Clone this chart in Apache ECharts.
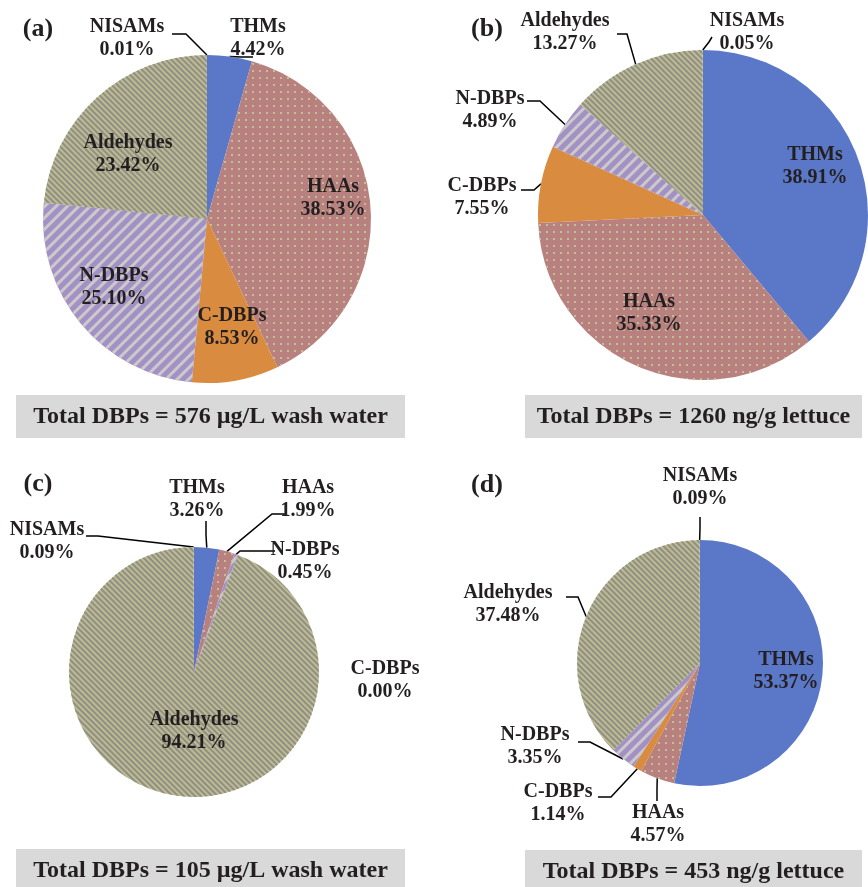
<!DOCTYPE html>
<html><head><meta charset="utf-8">
<script src="https://cdn.jsdelivr.net/npm/echarts@6/dist/echarts.min.js"></script>
<style>html,body{margin:0;padding:0;background:#fff}#c{width:868px;height:887px}</style>
</head><body><div id="c"></div>
<script>
// ---- data ----
const categories = ['THMs', 'HAAs', 'C-DBPs', 'N-DBPs', 'Aldehydes', 'NISAMs'];
const valuesA = [4.42, 38.53, 8.53, 25.10, 23.42, 0.01];
const valuesB = [38.91, 35.33, 7.55, 4.89, 13.27, 0.05];
const valuesC = [3.26, 1.99, 0.00, 0.45, 94.21, 0.09];
const valuesD = [53.37, 4.57, 1.14, 3.35, 37.48, 0.09];
const panelTags = ['(a)', '(b)', '(c)', '(d)'];
const totals = ['Total DBPs = 576 µg/L wash water', 'Total DBPs = 1260 ng/g lettuce',
                'Total DBPs = 105 µg/L wash water', 'Total DBPs = 453 ng/g lettuce'];
const allValues = [valuesA, valuesB, valuesC, valuesD];

// ---- layout / style ----
const FONT = "'Liberation Serif', 'Times New Roman', serif";
const TXT = '#231F20';
const PIES = [
  {center: [207, 219], r: 164},
  {center: [703, 215], r: 165},
  {center: [194, 672], r: 125},
  {center: [700, 663], r: 123}
];
const TAGPOS = [[38, 29], [487, 29], [38, 484], [487, 485]];
const BOXES = [
  {x: 16, y: 395, w: 389, h: 43},
  {x: 525, y: 395, w: 337, h: 43},
  {x: 16, y: 849, w: 389, h: 43},
  {x: 525, y: 850, w: 337, h: 43}
];
// label anchor (center) and leader-line elbow/end per slice
const LAYOUT = [
  [ {x: 258, y: 38, line: [[241, 57], [253, 57]]},
    {x: 333, y: 198}, {x: 232, y: 327}, {x: 114, y: 287}, {x: 128, y: 154},
    {x: 127, y: 38, line: [[186, 34], [172, 34]]} ],
  [ {x: 815, y: 166}, {x: 649, y: 313},
    {x: 482, y: 197, line: [[534, 190], [521, 190]]},
    {x: 490, y: 110, line: [[540, 101], [527, 101]]},
    {x: 565, y: 32, line: [[627, 34], [617, 34]]},
    {x: 747, y: 32, line: [[709, 42], [712, 37]]} ],
  [ {x: 197, y: 499, line: [[206, 535], [206, 521]]},
    {x: 308, y: 499, line: [[272, 514], [287, 514]]},
    {x: 385, y: 680},
    {x: 305, y: 561, line: [[240, 551], [275, 551]]},
    {x: 194, y: 731},
    {x: 47, y: 541, line: [[98, 536], [86, 536]]} ],
  [ {x: 786, y: 671},
    {x: 658, y: 824, line: [[657, 790], [657, 801]]},
    {x: 558, y: 803, line: [[611, 797], [598, 797]]},
    {x: 535, y: 746, line: [[590, 742], [578, 742]]},
    {x: 508, y: 604, line: [[578, 597], [566, 597]]},
    {x: 700, y: 487, line: [[700, 528], [700, 517]]} ]
];
const COLORS = ['#5B78C8', '#B98080', '#D98B3F', '#A390C4', '#BEBB8F', '#BEBB8F'];
const DECALS = [
  null,
  {symbol: 'rect', symbolSize: 1, color: '#C2C08E', dashArrayX: [2, 5], dashArrayY: [2, 5], rotation: 0},
  null,
  {symbol: 'rect', symbolSize: 1, color: '#CACACA', dashArrayX: [1, 0], dashArrayY: [3, 5], rotation: -Math.PI / 4},
  {symbol: 'rect', symbolSize: 1, color: '#8F8F88', dashArrayX: [1, 0], dashArrayY: [1.5, 2], rotation: Math.PI / 4},
  {symbol: 'rect', symbolSize: 1, color: '#8F8F88', dashArrayX: [1, 0], dashArrayY: [1.5, 2], rotation: Math.PI / 4}
];

function edgePoint(si, di) {
  const vals = allValues[si];
  const tot = vals.reduce((a, b) => a + b, 0);
  let cum = 0;
  for (let k = 0; k < di; k++) cum += vals[k];
  const frac = (cum + vals[di] / 2) / tot;
  const ang = frac * 2 * Math.PI;
  const p = PIES[si];
  return [p.center[0] + p.r * Math.sin(ang), p.center[1] - p.r * Math.cos(ang)];
}

const series = allValues.map((vals, si) => ({
  type: 'pie',
  center: PIES[si].center,
  radius: PIES[si].r,
  startAngle: 90,
  clockwise: true,
  avoidLabelOverlap: false,
  stillShowZeroSum: true,
  animation: false,
  silent: true,
  itemStyle: {borderWidth: 0},
  label: {
    show: true,
    fontFamily: FONT, fontWeight: 'bold', fontSize: 20, lineHeight: 23, color: TXT,
    align: 'center',
    formatter: p => p.name + '\n' + Number(p.value).toFixed(2) + '%'
  },
  labelLine: {show: true, length: 10, length2: 10, lineStyle: {color: '#000', width: 1.5}},
  labelLayout: params => {
    const L = LAYOUT[si][params.dataIndex];
    const res = {x: L.x, y: L.y, align: 'center', verticalAlign: 'middle'};
    if (L.line) res.labelLinePoints = [edgePoint(si, params.dataIndex), L.line[0], L.line[1]];
    return res;
  },
  data: categories.map((name, j) => ({
    name: name,
    value: vals[j],
    itemStyle: DECALS[j] ? {color: COLORS[j], decal: DECALS[j]} : {color: COLORS[j]},
    label: {position: LAYOUT[si][j].line ? 'outside' : 'inside'},
    labelLine: {show: !!LAYOUT[si][j].line}
  }))
}));

const graphics = [];
BOXES.forEach((b, i) => {
  graphics.push({type: 'rect', shape: {x: b.x, y: b.y, width: b.w, height: b.h}, style: {fill: '#D9D9D9'}, z: 0});
  graphics.push({type: 'text', x: b.x + b.w / 2, y: b.y + 22, style: {
    text: totals[i], font: "bold 24px 'Liberation Serif', serif", fill: TXT, align: 'center', verticalAlign: 'middle'}, z: 1});
});
TAGPOS.forEach((p, i) => {
  graphics.push({type: 'text', x: p[0], y: p[1], style: {
    text: panelTags[i], font: "bold 26px 'Liberation Serif', serif", fill: TXT, align: 'center', verticalAlign: 'middle'}, z: 1});
});

const chart = echarts.init(document.getElementById('c'));
chart.setOption({
  backgroundColor: '#fff',
  animation: false,
  series: series,
  graphic: graphics
});
</script></body></html>
